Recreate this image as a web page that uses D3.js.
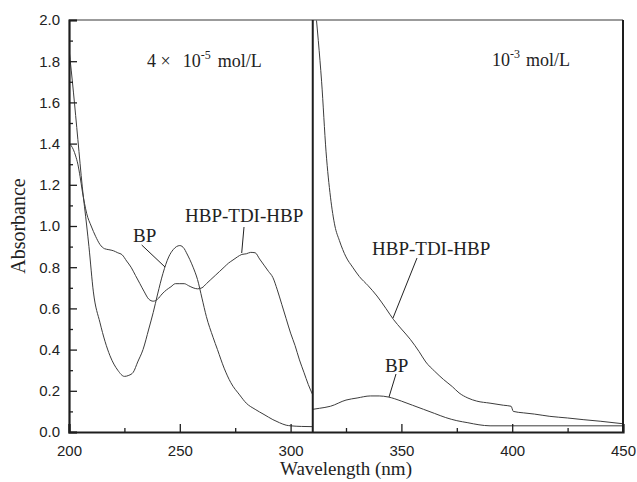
<!DOCTYPE html>
<html>
<head>
<meta charset="utf-8">
<script src="https://cdn.jsdelivr.net/npm/d3@7"></script>
<style>
  html, body { margin: 0; padding: 0; background: #fff; }
  svg { display: block; }
</style>
</head>
<body>
<svg id="chart" width="637" height="482"></svg>
<script>
// ---- Data ----
// Left panel (4 × 10^-5 mol/L), wavelength 200–310 nm
const bpLeftNm  = [200,202,204,206,208,209,211,214,218.5,222,225,227,229,231,233.4,236,238,240,242.4,245,247,250,252,253,256,258,260,262,265,267,270,273,277,280,284,288,292,295,298,300,305,310];
const bpLeftAbs = [1.86,1.65,1.42,1.19,1.00,0.90,0.68,0.53,0.37,0.30,0.27,0.275,0.29,0.34,0.40,0.50,0.58,0.67,0.77,0.85,0.885,0.905,0.89,0.87,0.80,0.74,0.65,0.56,0.46,0.40,0.31,0.24,0.18,0.14,0.11,0.085,0.06,0.045,0.033,0.03,0.027,0.026];

const hbpLeftNm  = [200,201,202,203,204,205,206,207,208,210,212,214,216,218,220,222,224,226,228,230,232,234,236,238,240,242,244,246,248,250,252,254,256,258,260,262,264,266,268,270,272,274,276,278,280,282,284,286,288,290,292,294,296,298,300,302,304,306,308,310];
const hbpLeftAbs = [1.40,1.39,1.37,1.34,1.30,1.24,1.17,1.11,1.06,1.00,0.95,0.91,0.89,0.885,0.88,0.87,0.86,0.83,0.80,0.76,0.72,0.68,0.645,0.635,0.645,0.67,0.69,0.705,0.72,0.72,0.72,0.71,0.70,0.695,0.70,0.72,0.74,0.76,0.78,0.80,0.82,0.835,0.85,0.862,0.865,0.872,0.87,0.84,0.81,0.78,0.75,0.69,0.62,0.55,0.48,0.42,0.35,0.29,0.23,0.18];

// Right panel (10^-3 mol/L), wavelength 310–450 nm
const hbpRightNm  = [311.5,312.5,314,316,318,320,322,325,328,331,335,339,343,346.5,350,354,358,361,365,369,373,376,380,384,390,396,399.5,400.5,405,410,417,425,432,440,450];
const hbpRightAbs = [2.02,1.90,1.70,1.36,1.14,1.00,0.93,0.85,0.80,0.755,0.71,0.66,0.60,0.545,0.50,0.45,0.39,0.34,0.295,0.255,0.22,0.19,0.165,0.15,0.14,0.13,0.125,0.10,0.093,0.087,0.076,0.068,0.06,0.052,0.04];

const bpRightNm  = [310,313,318,325,330,336,340,344,350,355,360,365,370,375,380,385,390,400,450];
const bpRightAbs = [0.11,0.115,0.125,0.155,0.165,0.175,0.175,0.17,0.15,0.13,0.11,0.09,0.07,0.055,0.045,0.035,0.03,0.03,0.03];

const xMajorTicks = [200,250,300,350,400,450];
const xMinorTicks = [225,275,325,375,425];
const yMajorTicks = [0,0.2,0.4,0.6,0.8,1.0,1.2,1.4,1.6,1.8,2.0];
const yMinorTicks = [0.1,0.3,0.5,0.7,0.9,1.1,1.3,1.5,1.7,1.9];
const splitNm = 310;

// ---- Layout ----
const svg = d3.select("#chart");
const W = 637, H = 482;
const margin = {left: 69, top: 20, right: 14, bottom: 50};
const x = d3.scaleLinear().domain([200, 450]).range([margin.left, W - margin.right]);
const y = d3.scaleLinear().domain([0, 2]).range([H - margin.bottom, margin.top]);

const serif = "'Liberation Serif','Times New Roman',Times,serif";
const sans = "'Liberation Sans',Arial,Helvetica,sans-serif";
const axisColor = "#1e1e1e";
const curveColor = "#3c3c3c";

svg.append("defs").append("clipPath").attr("id", "plotclip")
  .append("rect").attr("x", x(200)).attr("y", y(2)).attr("width", x(450) - x(200)).attr("height", y(0) - y(2));

// Curves
const line = d3.line().x(d => x(d[0])).y(d => y(d[1])).curve(d3.curveMonotoneX);
const series = [
  [bpLeftNm, bpLeftAbs],
  [hbpLeftNm, hbpLeftAbs],
  [hbpRightNm, hbpRightAbs],
  [bpRightNm, bpRightAbs]
];
const g = svg.append("g").attr("clip-path", "url(#plotclip)");
series.forEach(([xs, ys]) => {
  g.append("path")
    .datum(xs.map((v, i) => [v, ys[i]]))
    .attr("fill", "none")
    .attr("stroke", curveColor)
    .attr("stroke-width", 1)
    .attr("d", line);
});

// Frame: top grey, right dark
svg.append("line").attr("x1", x(200)).attr("x2", x(450)).attr("y1", y(2)).attr("y2", y(2))
  .attr("stroke", "#7a7a7a").attr("stroke-width", 1.5);
svg.append("line").attr("x1", x(450)).attr("x2", x(450)).attr("y1", y(2)).attr("y2", y(0))
  .attr("stroke", axisColor).attr("stroke-width", 2);
// Divider
svg.append("line").attr("x1", x(splitNm)).attr("x2", x(splitNm)).attr("y1", y(2)).attr("y2", y(0))
  .attr("stroke", axisColor).attr("stroke-width", 2);

// Y axis
const yAxis = svg.append("g").attr("transform", `translate(${x(200)},0)`)
  .call(d3.axisLeft(y).tickValues(yMajorTicks).tickFormat(d3.format(".1f")).tickSize(-8).tickPadding(9));
const yMinor = svg.append("g").attr("transform", `translate(${x(200)},0)`)
  .call(d3.axisLeft(y).tickValues(yMinorTicks).tickFormat("").tickSize(-4));
// X axis
const xAxis = svg.append("g").attr("transform", `translate(0,${y(0)})`)
  .call(d3.axisBottom(x).tickValues(xMajorTicks).tickFormat(d3.format("d")).tickSize(-8).tickPadding(13));
const xMinor = svg.append("g").attr("transform", `translate(0,${y(0)})`)
  .call(d3.axisBottom(x).tickValues(xMinorTicks).tickFormat("").tickSize(-4));

[yAxis, yMinor, xAxis, xMinor].forEach(a => {
  a.select(".domain").attr("stroke", axisColor).attr("stroke-width", 2.2);
  a.selectAll(".tick line").attr("stroke", axisColor).attr("stroke-width", 1.3);
  a.selectAll(".tick text").attr("fill", "#222").style("font-family", sans).style("font-size", "15px");
});
yMinor.select(".domain").remove();
xMinor.select(".domain").remove();

// Axis titles
svg.append("text").attr("transform", `translate(25,${(y(0) + y(2)) / 2}) rotate(-90)`)
  .attr("text-anchor", "middle").style("font-family", serif).style("font-size", "20px").attr("fill", "#222")
  .text("Absorbance");
svg.append("text").attr("x", (x(200) + x(450)) / 2).attr("y", 475)
  .attr("text-anchor", "middle").style("font-family", serif).style("font-size", "19px").attr("fill", "#222")
  .text("Wavelength (nm)");

// Concentration labels
const c1 = svg.append("text").attr("x", 147).attr("y", 67).style("font-family", serif).style("font-size", "18px").attr("fill", "#222");
c1.append("tspan").text("4 ×");
c1.append("tspan").attr("dx", 12).text("10");
c1.append("tspan").attr("dy", -8).style("font-size", "12px").text("-5");
c1.append("tspan").attr("dy", 8).attr("dx", 7).text("mol/L");

const c2 = svg.append("text").attr("x", 492).attr("y", 66).style("font-family", serif).style("font-size", "18px").attr("fill", "#222");
c2.append("tspan").text("10");
c2.append("tspan").attr("dy", -8).style("font-size", "12px").text("-3");
c2.append("tspan").attr("dy", 8).attr("dx", 6).text("mol/L");

// Curve labels with leader lines
const labels = [
  {text: "BP", tx: 133, ty: 242, lx1: 141.7, ly1: 245, lx2: 165, ly2: 267},
  {text: "HBP-TDI-HBP", tx: 185, ty: 222, lx1: 244, ly1: 227, lx2: 241.7, ly2: 253},
  {text: "HBP-TDI-HBP", tx: 372, ty: 255, lx1: 417, ly1: 258, lx2: 393, ly2: 318},
  {text: "BP", tx: 385, ty: 372, lx1: 396, ly1: 374, lx2: 389, ly2: 397}
];
labels.forEach(l => {
  svg.append("text").attr("x", l.tx).attr("y", l.ty).style("font-family", serif).style("font-size", "19px")
    .attr("fill", "#222").text(l.text);
  svg.append("line").attr("x1", l.lx1).attr("y1", l.ly1).attr("x2", l.lx2).attr("y2", l.ly2)
    .attr("stroke", "#222").attr("stroke-width", 1);
});
</script>
</body>
</html>
